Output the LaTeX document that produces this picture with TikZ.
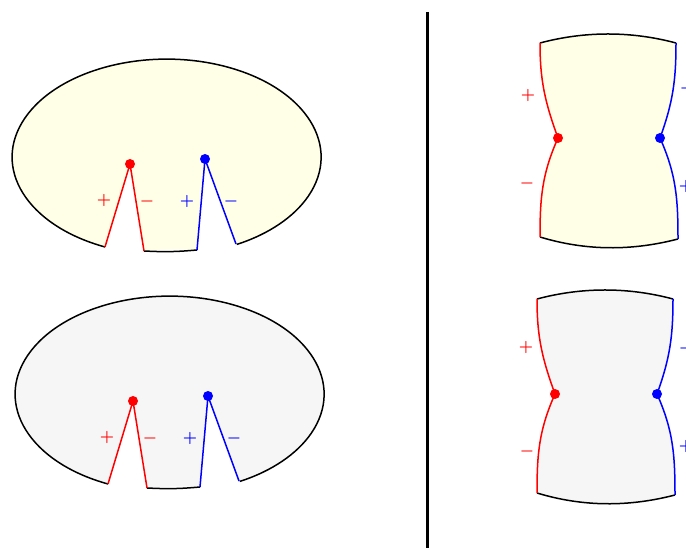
\documentclass[tikz,border=0pt]{standalone}
\usepackage{amsmath,amssymb}
\usepackage{tikz}
\usetikzlibrary{calc}
\definecolor{cream}{RGB}{255,255,232}
\definecolor{pale}{RGB}{246,246,246}

\begin{document}
\begin{tikzpicture}[x=1pt,y=1pt,line width=1.5pt,line join=round,
    sgn/.style={font=\boldmath,scale=1.6,inner sep=0pt}]
  \useasboundingbox (0,0) rectangle (686,548);

  % left: two cut ovals
  \foreach \dx/\dy/\col [count=\i] in {0/0/cream,3/-237/pale}{
    \begin{scope}[shift={(\dx,\dy)}]
      \coordinate (R\i) at (130,384);
      \coordinate (B\i) at (205,389);
      \coordinate (ra\i) at (105,301);
      \coordinate (rb\i) at (144,297);
      \coordinate (ba\i) at (197,298);
      \coordinate (bb\i) at (236,304);

      \fill[\col] (ra\i) arc[start angle=246.5,end angle=-63,x radius=154.5,y radius=98]
        -- (B\i) -- (ba\i) to[bend right=4] (rb\i) -- (R\i) -- cycle;
      \draw (ra\i) arc[start angle=246.5,end angle=-63,x radius=154.5,y radius=98];
      \draw (rb\i) to[bend right=4] (ba\i);
      \draw[red] (ra\i) -- (R\i) -- (rb\i);
      \draw[blue] (ba\i) -- (B\i) -- (bb\i);

      \fill[red] (R\i) circle (5);
      \fill[blue] (B\i) circle (5);

      \node[sgn,red] (rp\i) at (104,347) {$+$};
      \node[sgn,red] (rm\i) at (147,346) {$-$};
      \node[sgn,blue] (bp\i) at (187,346) {$+$};
      \node[sgn,blue] (bm\i) at (231,346) {$-$};
    \end{scope}
  }

  % divider
  \coordinate (top) at (427,536);
  \coordinate (bot) at (427,0);
  \draw[line width=3pt] (top) -- (bot);

  % right: two waisted pieces
  \foreach \dx/\dy/\col [count=\i] in {0/0/cream,-3/-256/pale}{
    \begin{scope}[shift={(\dx,\dy)}]
      \coordinate (tl\i) at (540,505);
      \coordinate (tr\i) at (676,505);
      \coordinate (bl\i) at (540,311);
      \coordinate (br\i) at (678,309);
      \coordinate (L\i) at (558,410);
      \coordinate (Q\i) at (660,410);

      \fill[\col] (tl\i) .. controls (585,517) and (631,517) .. (tr\i)
        to[out=-90,in=70] (Q\i) to[out=-66,in=90] (br\i)
        .. controls (632,297) and (586,297) .. (bl\i)
        to[out=90,in=-114] (L\i) to[out=110,in=-90] cycle;
      \draw (tl\i) .. controls (585,517) and (631,517) .. (tr\i);
      \draw (br\i) .. controls (632,297) and (586,297) .. (bl\i);
      \draw[red] (tl\i) to[out=-90,in=110] (L\i) to[out=-114,in=90] (bl\i);
      \draw[blue] (tr\i) to[out=-90,in=70] (Q\i) to[out=-66,in=90] (br\i);

      \fill[red] (L\i) circle (5);
      \fill[blue] (Q\i) circle (5);
    \end{scope}
  }

  \node[sgn,red] (lp1) at (528,452) {$+$};
  \node[sgn,red] (lm1) at (527,364) {$-$};
  \node[sgn,blue] (qm1) at (687,459) {$-$};
  \node[sgn,blue] (qp1) at (686,361) {$+$};

  \node[sgn,red] (lp2) at (526,200) {$+$};
  \node[sgn,red] (lm2) at (527,96) {$-$};
  \node[sgn,blue] (qm2) at (686,199) {$-$};
  \node[sgn,blue] (qp2) at (686,101) {$+$};
\end{tikzpicture}
\end{document}
